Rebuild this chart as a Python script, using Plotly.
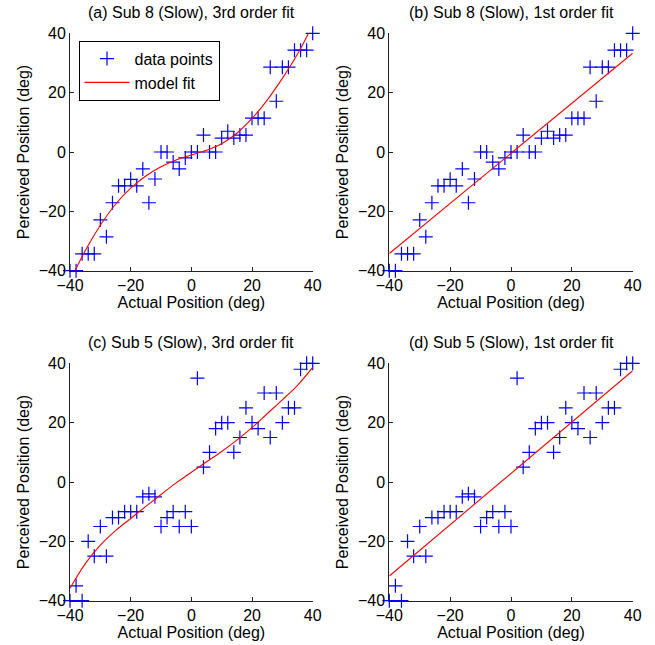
import plotly.graph_objects as go

# ---------------- data ----------------
actual_pos = [-40, -38, -36, -34, -32, -30, -28, -26, -24, -22, -20, -18, -16, -14, -12,
              -10, -8, -6, -4, -2, 0, 2, 4, 6, 8, 10, 12, 14, 16, 18, 20, 22, 24, 26,
              28, 30, 32, 34, 36, 38, 40]

sub8_perceived = [-40, -40, -34.3, -34.3, -34.3, -22.9, -28.6, -17.1, -11.4, -11.4,
                  -9.2, -11.4, -5.7, -17.1, -9.1, 0, 0, -3.4, -5.7, -2.0, 0, 0, 5.7,
                  0, 0, 4.7, 7.0, 4.7, 5.7, 5.7, 11.4, 11.4, 11.4, 28.6, 17.1, 28.6,
                  28.6, 34.3, 34.3, 34.3, 40]

sub5_perceived = [-40, -35, -40, -20, -25, -15, -25, -12, -12, -10, -10, -10, -5, -4,
                  -5, -15, -12, -10, -15, -10, -15, 35, 5, 10, 18, 20, 20, 10, 15, 25,
                  20, 18, 30, 15, 30, 20, 25, 25, 38, 40, 40]

fit_x = [-40, -35, -30, -25, -20, -15, -10, -5, 0, 5, 10, 15, 20, 25, 30, 35, 40]
sub8_fit3 = [-43.5, -33.3, -24.7, -17.6, -12.2, -8.1, -5.0, -2.7, -1.0, 0.6, 2.8,
             6.3, 11.3, 17.5, 24.8, 33.0, 42.8]
sub5_fit3 = [-35.8, -27.6, -21.3, -16.4, -12.3, -8.2, -4.2, -0.3, 3.3, 6.8, 10.3,
             14.1, 18.3, 23.0, 27.7, 32.6, 38.6]

lin_x = [-40, 40]
sub8_fit1 = [-34.2, 33.3]
sub5_fit1 = [-31.7, 37.5]

titles = ["(a) Sub 8 (Slow), 3rd order fit", "(b) Sub 8 (Slow), 1st order fit",
          "(c) Sub 5 (Slow), 3rd order fit", "(d) Sub 5 (Slow), 1st order fit"]
tick_vals = [-40, -20, 0, 20, 40]

# ---------------- layout geometry ----------------
W, H = 655, 645


def xp(px):
    return px / W


def yp(py):
    return 1 - py / H


xdoms = [[xp(70), xp(312.7)], [xp(389.3), xp(632.7)]]
ydoms = [[yp(270.7), yp(33.3)], [yp(600.7), yp(363.3)]]
title_y = [yp(12.5), yp(342.5)]

FONT = "Liberation Sans, Arial, Helvetica, sans-serif"
FS = 16

panels = [
    (sub8_perceived, fit_x, sub8_fit3, True),
    (sub8_perceived, lin_x, sub8_fit1, False),
    (sub5_perceived, fit_x, sub5_fit3, True),
    (sub5_perceived, lin_x, sub5_fit1, False),
]

fig = go.Figure()
layout = dict(
    width=W, height=H,
    margin=dict(l=0, r=0, t=0, b=0, autoexpand=False),
    paper_bgcolor="white", plot_bgcolor="white",
    font=dict(family=FONT, size=FS, color="black"),
    showlegend=True,
    legend=dict(x=xp(78.5), y=yp(40.7), xanchor="left", yanchor="top",
                bordercolor="black", borderwidth=1, bgcolor="white",
                font=dict(size=FS), itemwidth=45, tracegroupgap=0),
    annotations=[],
)

for i, (yd, fx, fy, cubic) in enumerate(panels):
    r, c = divmod(i, 2)
    n = i + 1
    xa = "x" if n == 1 else f"x{n}"
    ya = "y" if n == 1 else f"y{n}"
    fig.add_trace(go.Scatter(
        x=actual_pos, y=yd, mode="markers", name="data points",
        marker=dict(symbol="cross-thin", size=10, color="#0000FF",
                    line=dict(color="#0000FF", width=1.2)),
        showlegend=(i == 0), xaxis=xa, yaxis=ya, cliponaxis=False))
    fig.add_trace(go.Scatter(
        x=fx, y=fy, mode="lines", name="model fit",
        line=dict(color="#FF0000", width=1.1, shape="spline" if cubic else "linear"),
        showlegend=(i == 0), xaxis=xa, yaxis=ya))

    axis_common = dict(
        range=[-40, 40], tickvals=tick_vals, ticks="inside", ticklen=4,
        tickcolor="#222", showline=True, linecolor="#222", linewidth=1,
        showgrid=False, zeroline=False, tickfont=dict(size=FS, family=FONT),
        fixedrange=True, automargin=False,
    )
    layout["xaxis" + ("" if n == 1 else str(n))] = dict(
        axis_common, domain=xdoms[c], anchor=ya,
        title=dict(text="Actual Position (deg)", standoff=2, font=dict(size=FS)))
    layout["yaxis" + ("" if n == 1 else str(n))] = dict(
        axis_common, domain=ydoms[r], anchor=xa,
        title=dict(text="Perceived Position (deg)", standoff=5, font=dict(size=FS)))

    layout["annotations"].append(dict(
        text=titles[i], xref="paper", yref="paper",
        x=(xdoms[c][0] + xdoms[c][1]) / 2, y=title_y[r],
        xanchor="center", yanchor="middle", showarrow=False,
        font=dict(size=FS, family=FONT)))

fig.update_layout(**layout)
# remove the browser's default 8px page margin so the figure fills the window
fig.write_html("out.html",
               config={"displayModeBar": False, "staticPlot": True},
               post_script="document.body.style.margin='0px';"
                           "document.body.style.overflow='hidden';")
